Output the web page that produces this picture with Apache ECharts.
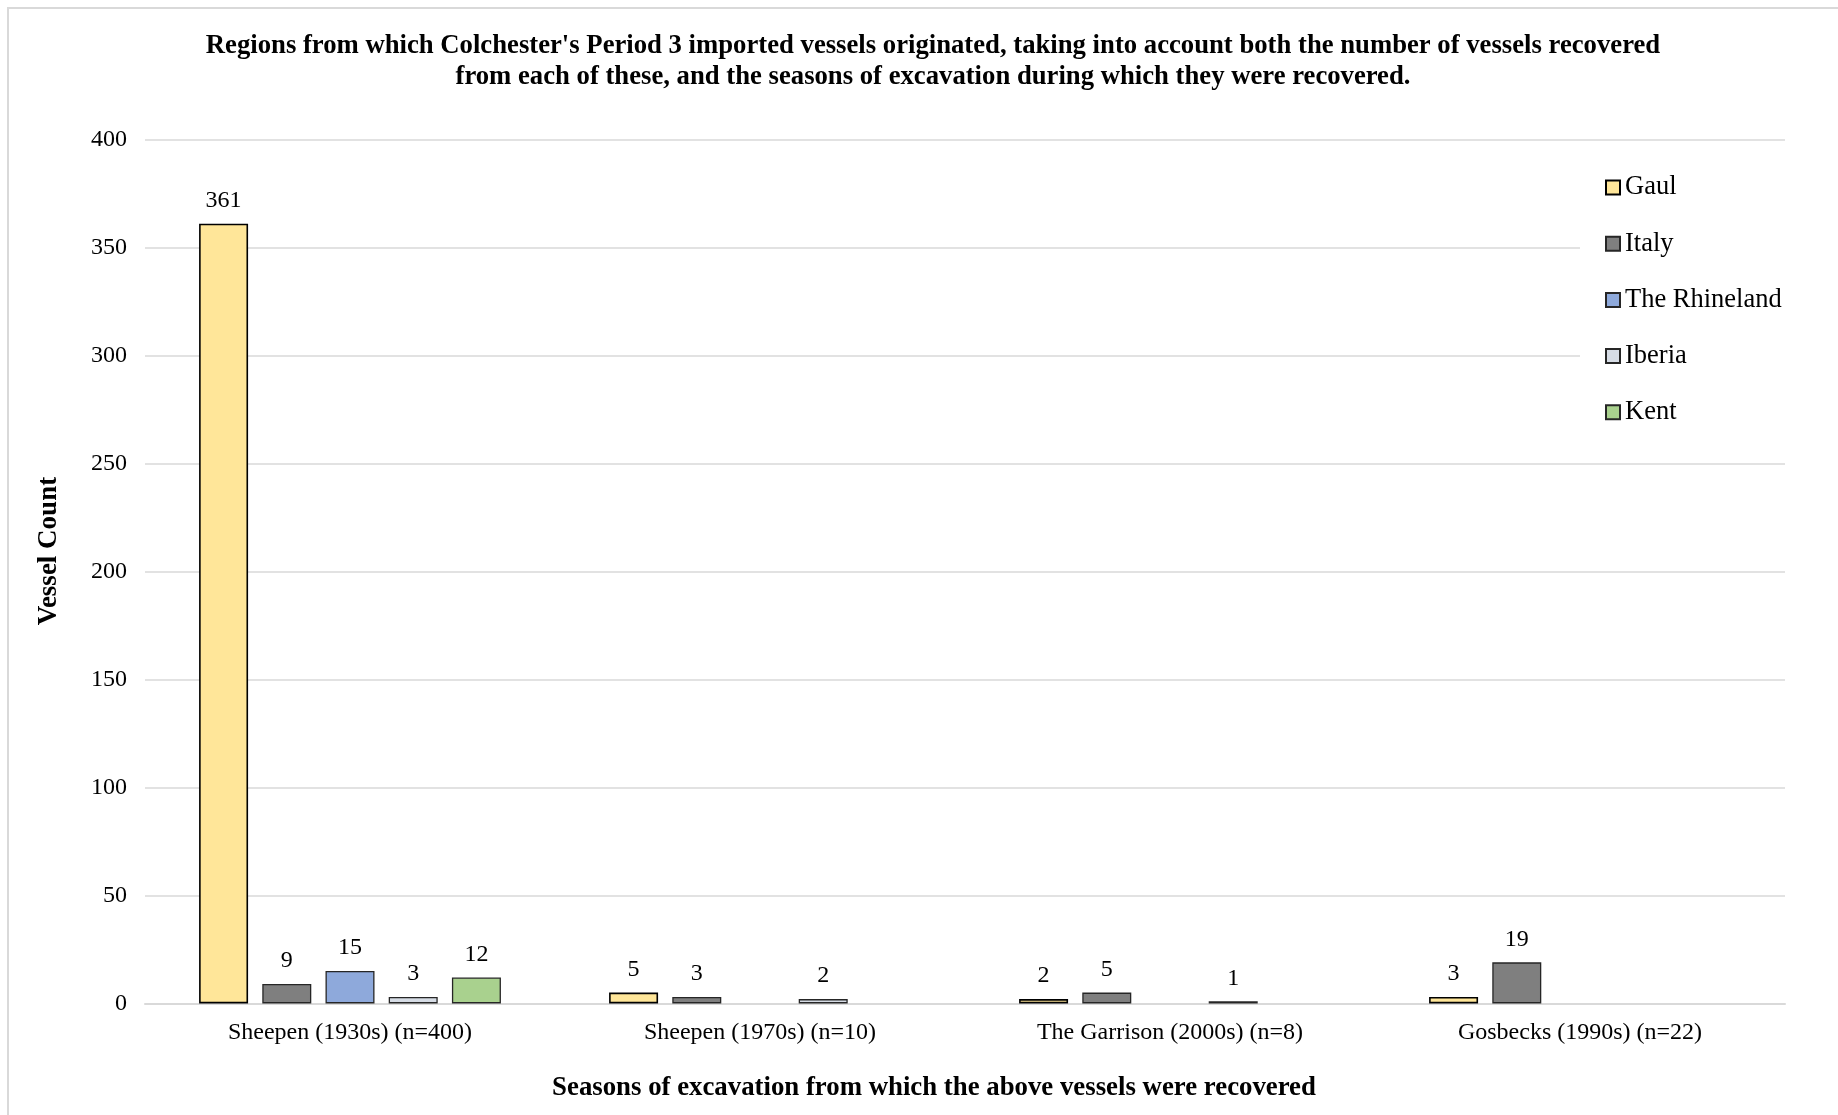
<!DOCTYPE html>
<html>
<head>
<meta charset="utf-8">
<title>Colchester Period 3 imported vessels</title>
<script src="https://cdn.jsdelivr.net/npm/echarts@6/dist/echarts.min.js"></script>
<style>
  html, body { margin: 0; padding: 0; background: #ffffff; }
  #chart { width: 1838px; height: 1115px; }
</style>
</head>
<body>
<div id="chart"></div>
<script>
// Excavation seasons (x categories)
const seasons = [
  'Sheepen (1930s) (n=400)',
  'Sheepen (1970s) (n=10)',
  'The Garrison (2000s) (n=8)',
  'Gosbecks (1990s) (n=22)'
];

// Vessel counts per region of origin, one value per season (null = none recovered)
const gaul      = [361, 5, 2, 3];
const italy     = [9, 3, 5, 19];
const rhineland = [15, null, null, null];
const iberia    = [3, 2, 1, null];
const kent      = [12, null, null, null];

// Value axis ticks
const yTicks = [0, 50, 100, 150, 200, 250, 300, 350, 400];

const FONT = '"Liberation Serif", "Times New Roman", serif';

const regions = [
  { name: 'Gaul',          data: gaul,      color: '#FFE699', border: '#000000', bw: 1.6 },
  { name: 'Italy',         data: italy,     color: '#7F7F7F', border: '#262626', bw: 1.3 },
  { name: 'The Rhineland', data: rhineland, color: '#8EA9DB', border: '#262626', bw: 1.3 },
  { name: 'Iberia',        data: iberia,    color: '#D6DCE5', border: '#262626', bw: 1.3 },
  { name: 'Kent',          data: kent,      color: '#A9D18E', border: '#262626', bw: 1.3 }
];

const chart = echarts.init(document.getElementById('chart'), null, { renderer: 'canvas' });

const option = {
  backgroundColor: '#ffffff',
  animation: false,
  title: {
    text: "Regions from which Colchester's Period 3 imported vessels originated, taking into account both the number of vessels recovered\nfrom each of these, and the seasons of excavation during which they were recovered.",
    left: 933,
    top: 31,
    padding: 0,
    textAlign: 'center',
    textStyle: {
      fontFamily: FONT,
      fontSize: 26.7,
      fontWeight: 'bold',
      color: '#000000',
      lineHeight: 30.5
    }
  },
  legend: {
    orient: 'vertical',
    left: 1580,
    top: 161,
    padding: [13, 6, 13, 25],
    backgroundColor: '#ffffff',
    itemWidth: 14,
    itemHeight: 14,
    itemGap: 29.2,
    icon: 'rect',
    textStyle: {
      fontFamily: FONT,
      fontSize: 26.5,
      color: '#000000',
      lineHeight: 26
    },
    data: regions.map(r => r.name)
  },
  grid: {
    left: 145,
    right: 53,
    top: 139.5,
    bottom: 111.6,
    containLabel: false
  },
  xAxis: {
    type: 'category',
    data: seasons,
    axisLine: { show: true, lineStyle: { color: '#d9d9d9', width: 2 } },
    axisTick: { show: false },
    axisLabel: {
      fontFamily: FONT,
      fontSize: 24,
      color: '#000000',
      margin: 17
    }
  },
  yAxis: {
    type: 'value',
    min: yTicks[0],
    max: yTicks[yTicks.length - 1],
    interval: yTicks[1] - yTicks[0],
    axisLine: { show: false },
    axisTick: { show: false },
    splitLine: { show: true, lineStyle: { color: '#d9d9d9', width: 1.5 } },
    axisLabel: {
      fontFamily: FONT,
      fontSize: 24,
      color: '#000000',
      margin: 18
    }
  },
  series: regions.map(r => ({
    name: r.name,
    type: 'bar',
    data: r.data,
    barWidth: 49,
    barGap: '29%',
    itemStyle: {
      color: r.color,
      borderColor: r.border,
      borderWidth: r.bw
    },
    label: {
      show: true,
      position: 'top',
      distance: 11,
      fontFamily: FONT,
      fontSize: 24,
      color: '#000000'
    }
  })),
  graphic: [
    {
      // frame around the chart area (left and top edges visible)
      type: 'rect',
      shape: { x: 8, y: 8, width: 3000, height: 3000 },
      style: { fill: 'none', stroke: '#d9d9d9', lineWidth: 2 },
      silent: true,
      z: -10
    },
    {
      type: 'text',
      x: 49,
      y: 551,
      rotation: Math.PI / 2,
      style: {
        text: 'Vessel Count',
        fontFamily: FONT,
        fontSize: 27,
        fontWeight: 'bold',
        fill: '#000000',
        align: 'center',
        verticalAlign: 'middle'
      }
    },
    {
      type: 'text',
      x: 934,
      y: 1088,
      style: {
        text: 'Seasons of excavation from which the above vessels were recovered',
        fontFamily: FONT,
        fontSize: 26.8,
        fontWeight: 'bold',
        fill: '#000000',
        align: 'center',
        verticalAlign: 'middle'
      }
    }
  ]
};

chart.setOption(option);
</script>
</body>
</html>
